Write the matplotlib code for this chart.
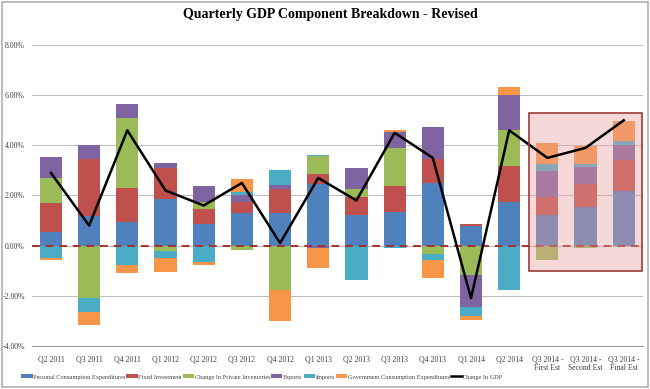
import numpy as np
import matplotlib
matplotlib.use("Agg")
import matplotlib.pyplot as plt
from matplotlib.patches import Rectangle

quarters = ["Q2 2011", "Q3 2011", "Q4 2011", "Q1 2012", "Q2 2012", "Q3 2012",
            "Q4 2012", "Q1 2013", "Q2 2013", "Q3 2013", "Q4 2013", "Q1 2014",
            "Q2 2014", "Q3 2014 -\nFirst Est", "Q3 2014 -\nSecond Est",
            "Q3 2014 -\nFinal Est"]

pce = [0.55, 1.18, 0.93, 1.86, 0.86, 1.29, 1.29, 2.46, 1.22, 1.35, 2.51, 0.80, 1.75, 1.22, 1.53, 2.19]
fixed_inv = [1.14, 2.27, 1.36, 1.23, 0.60, 0.46, 0.96, 0.40, 0.73, 1.04, 0.95, 0.05, 1.43, 0.73, 0.93, 1.23]
inventories = [1.02, -2.11, 2.82, -0.21, 0.27, -0.18, -1.78, 0.72, 0.30, 1.50, -0.34, -1.18, 1.44, -0.58, -0.11, 0.0]
exports = [0.82, 0.55, 0.55, 0.20, 0.65, 0.27, 0.17, -0.10, 0.86, 0.66, 1.29, -1.29, 1.40, 1.04, 0.67, 0.60]
imports = [-0.51, -0.56, -0.78, -0.28, -0.67, 0.13, 0.59, 0.04, -1.38, -0.09, -0.24, -0.35, -1.78, 0.27, 0.13, 0.16]
gov = [-0.07, -0.51, -0.33, -0.58, -0.11, 0.51, -1.23, -0.79, 0.0, 0.07, -0.73, -0.16, 0.31, 0.83, 0.73, 0.81]
gdp = [2.9, 0.8, 4.6, 2.2, 1.6, 2.5, 0.1, 2.7, 1.8, 4.5, 3.5, -2.1, 4.6, 3.5, 3.9, 5.0]

series = [
    ("Personal Consumption Expenditures", pce, "#4F81BD"),
    ("Fixed Investment", fixed_inv, "#C0504D"),
    ("Change In Private Inventories", inventories, "#9BBB59"),
    ("Exports", exports, "#8064A2"),
    ("Imports", imports, "#4BACC6"),
    ("Government Consumption Expenditures", gov, "#F79646"),
]

plt.rcParams["font.family"] = ["Liberation Serif", "DejaVu Serif"]

fig = plt.figure(figsize=(6.5, 3.89), dpi=100)
ax = fig.add_axes([0.049, 0.111, 0.940, 0.773])

x = np.arange(len(quarters))
pos_bottom = np.zeros(len(x))
neg_bottom = np.zeros(len(x))
for name, vals, color in series:
    vals = np.array(vals)
    bottoms = np.where(vals >= 0, pos_bottom, neg_bottom)
    ax.bar(x, vals, 0.58, bottom=bottoms, color=color, label=name, zorder=2)
    pos_bottom += np.where(vals >= 0, vals, 0)
    neg_bottom += np.where(vals < 0, vals, 0)

ax.plot(x, gdp, color="black", lw=1.8, label="Change In GDP", zorder=4)
ax.axhline(0, color="#A5302D", lw=1.4, ls=(0, (4, 3)), zorder=3)

# highlight box around the Q3 2014 estimates
ax.add_patch(Rectangle((12.51, -1.01), 2.98, 6.32, facecolor="#E8A0A0", alpha=0.4,
                       edgecolor="none", zorder=3))
ax.add_patch(Rectangle((12.51, -1.01), 2.98, 6.32, facecolor="none",
                       edgecolor="#9B3B3B", lw=1.2, zorder=5))

ax.set_xlim(-0.5, len(x) - 0.5)
ax.set_ylim(-4, 8)
ax.set_yticks(np.arange(-4, 9, 2))
ax.set_yticklabels([f"{v:.2f}%" for v in np.arange(-4, 9, 2)])
ax.set_xticks(x)
ax.set_xticklabels(quarters, linespacing=1.1)
ax.yaxis.grid(True, color="#BFBFBF", lw=0.8, zorder=0)
ax.tick_params(length=0, labelsize=5.6, colors="#404040")
ax.tick_params(axis="x", pad=7)
ax.tick_params(axis="y", pad=5)
for side in ["top", "right", "left"]:
    ax.spines[side].set_visible(False)
ax.spines["bottom"].set_color("#9F9F9F")

fig.text(0.508, 0.962, "Quarterly GDP Component Breakdown - Revised",
         ha="center", va="center", fontsize=10, fontweight="bold")

handles, labels = ax.get_legend_handles_labels()
handles = handles[1:] + handles[:1]
labels = labels[1:] + labels[:1]
fig.legend(handles, labels, loc="center", bbox_to_anchor=(0.403, 0.031), ncol=7,
           frameon=False, fontsize=4.5, handlelength=1.8, handleheight=0.6,
           handletextpad=0.1, columnspacing=0.15, labelcolor="#404040")

fig.patches.append(Rectangle((0.003, 0.005), 0.994, 0.99, transform=fig.transFigure,
                             facecolor="none", edgecolor="#B0B0B0", lw=1.2))

fig.savefig("out.png", dpi=100)
